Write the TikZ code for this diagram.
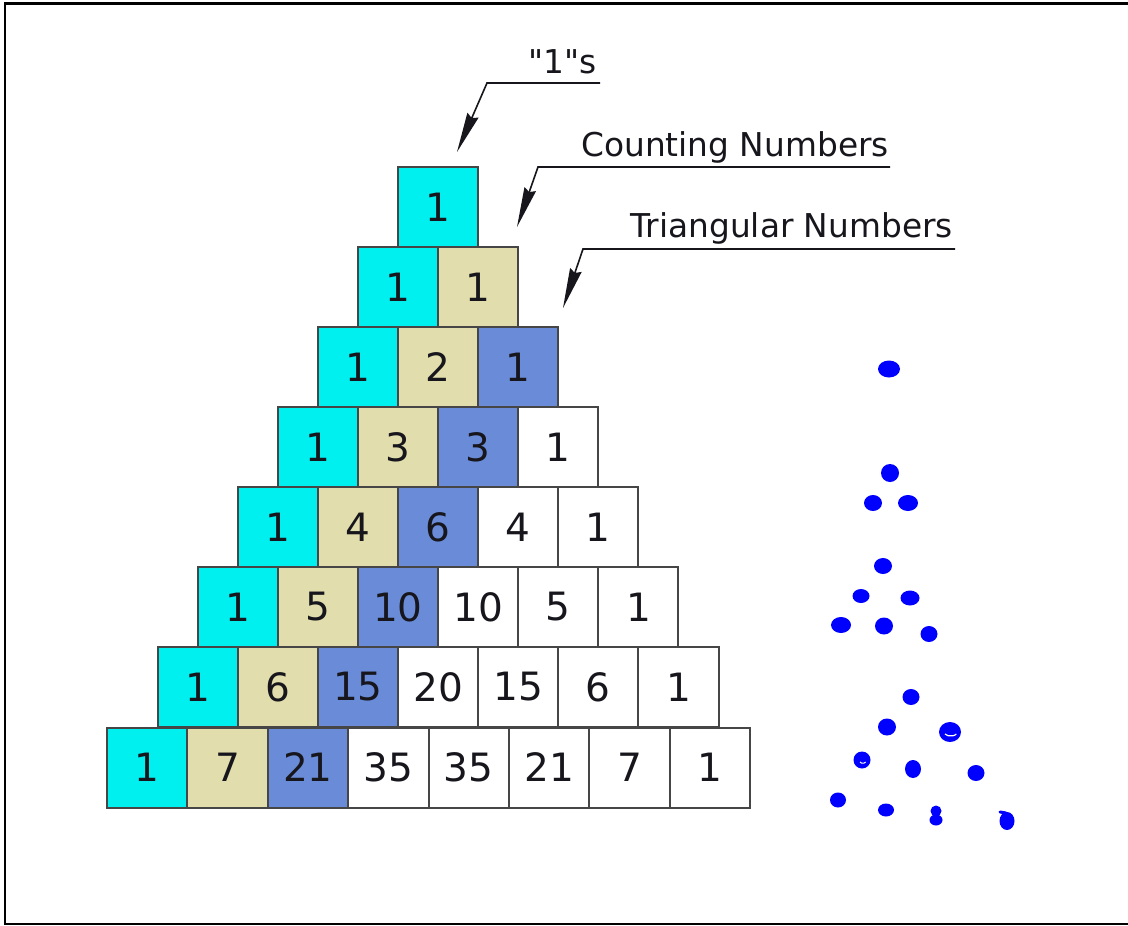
\documentclass[tikz,border=0pt]{standalone}
\usepackage{fontspec}
\setmainfont{DejaVu Sans}[Ligatures=TeXOff]
\usetikzlibrary{arrows.meta}
\definecolor{cyancell}{RGB}{0,240,240}
\definecolor{tancell}{RGB}{226,221,172}
\definecolor{bluecell}{RGB}{106,140,216}
\definecolor{cellline}{RGB}{70,70,70}
\definecolor{txt}{RGB}{22,22,28}
\definecolor{dotblue}{RGB}{0,0,255}
\begin{document}
\begin{tikzpicture}[x=1pt,y=-1pt,
  cell/.style={draw=cellline, line width=2pt, minimum width=80.14pt, minimum height=80pt,
    inner sep=0pt, font=\fontsize{39}{41}\selectfont, text=txt},
  cellb/.style={cell, minimum width=80.4pt},
  lbl/.style={font=\fontsize{32.8}{34}\selectfont, text=txt, inner sep=0pt},
  leader/.style={draw=txt, line width=1.6pt, -{Stealth[length=40pt,width=12pt,inset=3pt]}},
  dot/.style={fill=dotblue},
  frame/.style={draw=black, line width=2.5pt}]
\useasboundingbox (0,0) rectangle (1128,926);
\fill[white] (0,0) rectangle (1128,926);
% frame
\draw[frame] (1130,3.5) -- (5,3.5) -- (5,924) -- (1130,924);
% rows 1-7
\foreach \r/\vals in {1/{1},2/{1,1},3/{1,2,1},4/{1,3,3,1},5/{1,4,6,4,1},6/{1,5,10,10,5,1},7/{1,6,15,20,15,6,1}}{
  \foreach \v [count=\k from 0] in \vals {
    \ifcase\k\def\cc{cyancell}\or\def\cc{tancell}\or\def\cc{bluecell}\else\def\cc{white}\fi
    \node[cell, fill=\cc] (c\r-\k) at ({398-40.07*(\r-1)+40.07+80.14*\k}, {167+80*(\r-1)+40}) {\raisebox{-2pt}{\v}};
  }
}
% row 8
\foreach \v [count=\k from 0] in {1,7,21,35,35,21,7,1} {
  \ifcase\k\def\cc{cyancell}\or\def\cc{tancell}\or\def\cc{bluecell}\else\def\cc{white}\fi
  \node[cellb, fill=\cc] (c8-\k) at ({107+40.2+80.4*\k}, {727+40.5}) {\raisebox{-2pt}{\v}};
}
% labels
\node[lbl, anchor=base east] (t1) at (597,73) {"1"s};
\node[lbl, anchor=base east] (t2) at (889,156) {Counting Numbers};
\node[lbl, anchor=base east] (t3) at (953,237) {Triangular Numbers};
\coordinate (u1a) at (600,83);
\coordinate (u1b) at (487,83);
\coordinate (p1) at (457,152);
\coordinate (u2a) at (890,167);
\coordinate (u2b) at (538,167);
\coordinate (p2) at (517,227);
\coordinate (u3a) at (955,249);
\coordinate (u3b) at (583,249);
\coordinate (p3) at (563,308);
\draw[leader] (u1a) -- (u1b) -- (p1);
\draw[leader] (u2a) -- (u2b) -- (p2);
\draw[leader] (u3a) -- (u3b) -- (p3);
% dots
\fill[dot] (889,369) ellipse [x radius=11pt, y radius=8.5pt];
\fill[dot] (890,473) ellipse [x radius=9pt, y radius=9pt];
\fill[dot] (873,503) ellipse [x radius=9pt, y radius=8pt];
\fill[dot] (908,503) ellipse [x radius=10pt, y radius=8pt];
\fill[dot] (883,566) ellipse [x radius=9pt, y radius=8pt];
\fill[dot] (861,596) ellipse [x radius=8.5pt, y radius=7pt];
\fill[dot] (910,598) ellipse [x radius=9.5pt, y radius=7.5pt];
\fill[dot] (841,625) ellipse [x radius=10pt, y radius=8pt];
\fill[dot] (884,626) ellipse [x radius=9pt, y radius=8.5pt];
\fill[dot] (929,634) ellipse [x radius=8.5pt, y radius=8pt];
\fill[dot] (911,697) ellipse [x radius=8.5pt, y radius=8pt];
\fill[dot] (887,727) ellipse [x radius=9pt, y radius=8.5pt];
\fill[dot] (950,732) ellipse [x radius=11pt, y radius=10pt];
\fill[dot] (862,760) ellipse [x radius=8.5pt, y radius=8.5pt];
\fill[dot] (913,769) ellipse [x radius=8pt, y radius=9pt];
\fill[dot] (976,773) ellipse [x radius=8.5pt, y radius=8pt];
\fill[dot] (838,800) ellipse [x radius=8pt, y radius=7.5pt];
\fill[dot] (886,810) ellipse [x radius=8pt, y radius=6.5pt];
\fill[dot] (936,811) ellipse [x radius=5.5pt, y radius=5.5pt];
\fill[dot] (936,820) ellipse [x radius=6.5pt, y radius=5.5pt];
\fill[dot] (1007,821) ellipse [x radius=7.5pt, y radius=9pt];
\draw[dotblue, line width=3pt, line cap=round] (1000,812) -- (1006,813);
% highlights
\draw[white, line width=1.2pt] (945,734) arc [start angle=200, end angle=340, x radius=6pt, y radius=3pt];
\draw[white, line width=1pt] (860,762) arc [start angle=200, end angle=340, x radius=3pt, y radius=2pt];
\end{tikzpicture}
\end{document}
